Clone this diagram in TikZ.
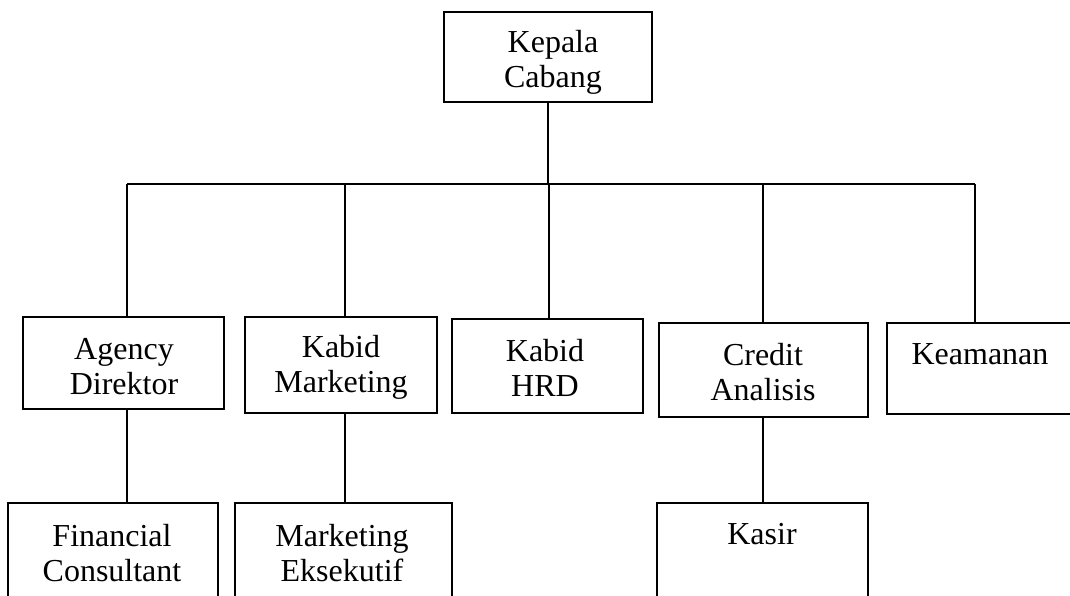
\documentclass[tikz,border=0pt]{standalone}
\usepackage{fontspec}
\setmainfont{Liberation Serif}
\begin{document}
\begin{tikzpicture}[x=1pt,y=-1pt,
  box/.style={draw=black,line width=1.6pt},
  conn/.style={draw=black,line width=1.6pt},
  lbl/.style={inner sep=0pt,align=center,font=\fontsize{32}{35}\selectfont}]
\useasboundingbox (0,0) rectangle (1070,595);
\clip (0,0) rectangle (1070,595);
% boxes
\draw[box] (444,12) rectangle (652,102);
\coordinate (K) at (548,102);
\draw[box] (23,317) rectangle (224,409);
\draw[box] (245,317) rectangle (437,413);
\draw[box] (452,319) rectangle (643,413);
\draw[box] (659,323) rectangle (868,417);
\draw[box] (887,323) rectangle (1080,414);
\draw[box] (8,503) rectangle (218,610);
\draw[box] (235,503) rectangle (452,610);
\draw[box] (657,503) rectangle (868,610);
% texts
\node[lbl] (tK) at (553,62) {Kepala\\Cabang};
\node[lbl] (tA) at (124,367) {Agency\\Direktor};
\node[lbl] (tM) at (341,367) {Kabid\\Marketing};
\node[lbl] (tH) at (545,368) {Kabid\\HRD};
\node[lbl] (tC) at (763,372) {Credit\\Analisis};
\node[lbl,anchor=base] (tS) at (980,364) {Keamanan};
\node[lbl] (tF) at (112,553) {Financial\\Consultant};
\node[lbl] (tE) at (342,553) {Marketing\\Eksekutif};
\node[lbl,anchor=base] (tKs) at (762,544) {Kasir};
% connector points
\coordinate (bus) at (548,184);
\coordinate (bA) at (127,184);
\coordinate (bM) at (345,184);
\coordinate (bH) at (549,184);
\coordinate (bC) at (763,184);
\coordinate (bS) at (975,184);
\coordinate (Atop) at (127,317);
\coordinate (Mtop) at (345,317);
\coordinate (Htop) at (549,319);
\coordinate (Ctop) at (763,323);
\coordinate (Stop) at (975,323);
\coordinate (Abot) at (127,409);
\coordinate (Mbot) at (345,413);
\coordinate (Cbot) at (763,417);
\coordinate (Ftop) at (127,503);
\coordinate (Etop) at (345,503);
\coordinate (Kstop) at (763,503);
% connectors
\draw[conn] (K) -- (bus);
\draw[conn] (bA) -- (bS);
\draw[conn] (bA) -- (Atop);
\draw[conn] (bM) -- (Mtop);
\draw[conn] (bH) -- (Htop);
\draw[conn] (bC) -- (Ctop);
\draw[conn] (bS) -- (Stop);
\draw[conn] (Abot) -- (Ftop);
\draw[conn] (Mbot) -- (Etop);
\draw[conn] (Cbot) -- (Kstop);
\end{tikzpicture}
\end{document}
